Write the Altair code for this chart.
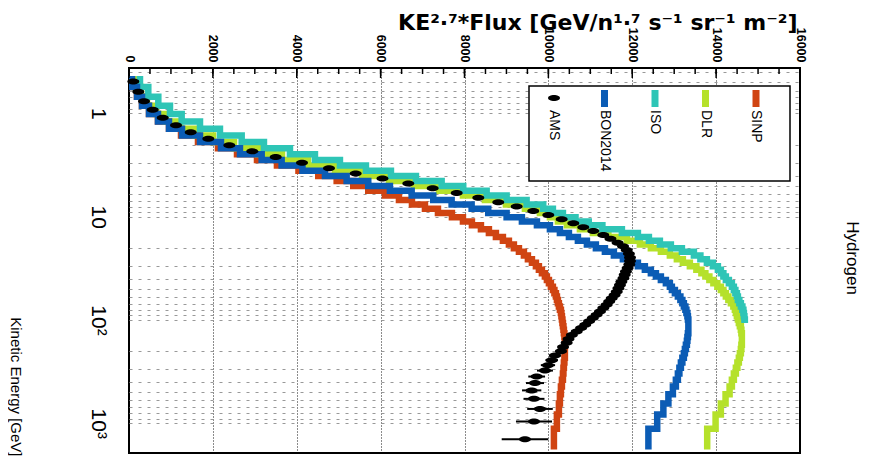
import altair as alt
import pandas as pd
import numpy as np

# ---------------- data ----------------
# kinetic energy bin edges [GeV/n]
ke_edges = [0.433, 0.554, 0.689, 0.840, 1.012, 1.199, 1.408, 1.639, 1.892, 2.176,
            2.483, 2.821, 3.190, 3.590, 4.031, 4.513, 5.036, 5.599, 6.214, 6.878,
            7.594, 8.369, 9.205, 10.10, 11.10, 12.10, 13.19, 14.39, 15.69, 17.09,
            18.58, 20.18, 21.88, 23.78, 25.78, 27.88, 30.18, 32.57, 35.17, 37.97,
            40.97, 44.17, 47.57, 51.27, 55.17, 59.37, 63.87, 68.77, 73.97, 79.57,
            85.57, 92.07, 99.07, 107.1, 115.1, 124.1, 134.1, 146.1, 159.1, 174.1,
            191.1, 210.1, 232.1, 258.1, 290.1, 329.1, 378.1, 440.1, 524.1, 642.1,
            821.1, 1129, 1799]

ams_flux = [103, 222, 358, 565, 804, 1121, 1471, 1891, 2392, 2940,
            3498, 4125, 4769, 5405, 6044, 6660, 7241, 7814, 8329, 8805,
            9244, 9640, 9998, 10317, 10594, 10832, 11071, 11309, 11480, 11650,
            11780, 11867, 11920, 11946, 11946, 11930, 11890, 11850, 11820, 11790,
            11740, 11707, 11670, 11630, 11580, 11510, 11450, 11390, 11310, 11230,
            11150, 11060, 10970, 10880, 10780, 10675, 10560, 10480, 10436, 10350,
            10300, 10157, 10080, 9990, 9919, 9721, 9681, 9602, 9657, 9800,
            9657, 9442]
ams_err = [40] * 55 + [80, 90, 100, 110, 120, 130, 140, 150, 170, 190,
                       200, 215, 230, 250, 305, 430, 555]

bon2014 = [72, 191, 310, 477, 691, 954, 1264, 1693, 2193, 2646,
           3164, 3640, 4136, 4673, 5190, 5705, 6222, 6740, 7255, 7693,
           8170, 8566, 9004, 9369, 9727, 10037, 10275, 10490, 10704, 10919,
           11133, 11348, 11562, 11777, 11968, 12135, 12301, 12444, 12564, 12683,
           12802, 12897, 12945, 13017, 13088, 13148, 13195, 13231, 13267, 13291,
           13315, 13327, 13338, 13338, 13338, 13338, 13327, 13315, 13303, 13279,
           13255, 13231, 13195, 13160, 13124, 13088, 13040, 12969, 12862, 12742,
           12595, 12385]

iso = [262, 460, 699, 977, 1256, 1693, 2169, 2687, 3218, 3838,
       4434, 5030, 5650, 6246, 6842, 7455, 7970, 8528, 9004, 9481,
       9877, 10108, 10347, 10647, 10962, 11288, 11753, 12135, 12397, 12659,
       12921, 13184, 13470, 13625, 13780, 13923, 14042, 14113, 14173, 14232,
       14304, 14376, 14423, 14459, 14495, 14519, 14554, 14590, 14626, 14650,
       14662, 14674, 14685]

dlr = [143, 286, 429, 644, 882, 1216, 1573, 2003, 2503, 3075,
       3648, 4267, 4911, 5555, 6198, 6794, 7390, 7963, 8487, 8988,
       9441, 9798, 10037, 10227, 10442, 10752, 11062, 11431, 11872, 12182,
       12444, 12683, 12897, 13064, 13207, 13374, 13529, 13649, 13744, 13839,
       13935, 14030, 14113, 14173, 14232, 14292, 14352, 14411, 14447, 14471,
       14495, 14519, 14542, 14566, 14590, 14602, 14614, 14614, 14614, 14602,
       14590, 14566, 14542, 14507, 14471, 14423, 14376, 14321, 14225, 14113,
       13987, 13787]

sinp = [72, 191, 310, 477, 691, 954, 1240, 1645, 2122, 2575,
        3052, 3528, 4041, 4513, 4952, 5347, 5705, 6103, 6437, 6747,
        7057, 7367, 7700, 7963, 8177, 8392, 8582, 8749, 8916, 9059,
        9178, 9298, 9417, 9512, 9608, 9703, 9774, 9846, 9917, 9965,
        10013, 10060, 10108, 10144, 10180, 10204, 10227, 10251, 10275, 10299,
        10311, 10323, 10335, 10347, 10359, 10370, 10382, 10394, 10394, 10394,
        10394, 10394, 10382, 10370, 10359, 10347, 10323, 10299, 10275, 10251,
        10203, 10132]

legend_names = ["AMS", "BON2014", "ISO", "DLR", "SINP"]
legend_colors = ["#000000", "#0b5cb5", "#2ec5b6", "#b5e12b", "#d04412"]

x_ticks = list(range(0, 16001, 2000))
x_minor = list(range(0, 16001, 500))
TITLE_X = "KE\u00b2\u00b7\u2077*Flux [GeV/n\u00b9\u00b7\u2077 s\u207b\u00b9 sr\u207b\u00b9 m\u207b\u00b2]"
TITLE_Y = "Kinetic Energy [GeV]"

# ---------------- tables ----------------
def hist_table(vals):
    rows = []
    for i, v in enumerate(vals):
        rows.append({"E": ke_edges[i], "flux": v, "k": 2 * i})
        rows.append({"E": ke_edges[i + 1], "flux": v, "k": 2 * i + 1})
    return pd.DataFrame(rows)

centers = [float(np.sqrt(ke_edges[i] * ke_edges[i + 1])) for i in range(len(ams_flux))]
ams_df = pd.DataFrame({"E": centers, "flux": ams_flux,
                       "lo": [f - e for f, e in zip(ams_flux, ams_err)],
                       "hi": [f + e for f, e in zip(ams_flux, ams_err)]})

ygrid = [m * 10 ** e for e in range(-1, 4) for m in range(1, 10)
         if 0.363 <= m * 10 ** e <= 1940]

W, H = 671, 385
FONT = "Liberation Sans"

x_scale = alt.Scale(domain=[0, 16000], nice=False, zero=False)
x_axis = alt.Axis(orient="top", values=x_ticks, format="d", labelAngle=90,
                  labelAlign="right", labelBaseline="middle",
                  labelPadding=6, ticks=False, tickSize=0, domain=False,
                  grid=True, gridColor="#000000", gridDash=[1, 2],
                  gridWidth=1, gridOpacity=0.9,
                  labelFont=FONT, labelFontSize=12.5, labelFontWeight="bold",
                  labelColor="#000000", labelOverlap=False,
                  title=TITLE_X, titleFont="DejaVu Sans",
                  titleFontSize=22, titleFontWeight="bold",
                  titleColor="#000000",
                  titleX=668, titleY=-39, titleAlign="right",
                  titleBaseline="alphabetic")

def xf(field):
    return alt.X(field, scale=x_scale, axis=x_axis)

y_enc = alt.Y("E:Q",
              scale=alt.Scale(type="log", domain=[0.363, 1940], nice=False,
                              reverse=True),
              axis=alt.Axis(orient="left", values=ygrid,
                            labelExpr="datum.value == 1 ? '1' : datum.value == 10 ? '10' : datum.value == 100 ? '10\u00b2' : datum.value == 1000 ? '10\u00b3' : ''",
                            labelAngle=90, labelAlign="center", labelBaseline="top",
                            labelPadding=21, ticks=False, tickSize=0, domain=False,
                            labelFont=FONT, labelFontSize=21, labelColor="#000000",
                            grid=True, gridColor="#999999", gridDash=[3, 6],
                            gridWidth=1,
                            title=TITLE_Y, titleFont=FONT,
                            titleFontSize=15, titleFontWeight="normal",
                            titleColor="#000000", titleAngle=90,
                            titleX=-114, titleY=388, titleAlign="right",
                            titleBaseline="middle"))

layers = []

def step_layer(vals, color):
    return alt.Chart(hist_table(vals)).mark_line(
        color=color, strokeWidth=6.5, strokeJoin="miter", strokeCap="butt",
        clip=True).encode(x=xf("flux:Q"), y=y_enc, order=alt.Order("k:Q"))

layers.append(step_layer(sinp, legend_colors[4]))
layers.append(step_layer(dlr, legend_colors[3]))
layers.append(step_layer(iso, legend_colors[2]))
layers.append(step_layer(bon2014, legend_colors[1]))

ellipse = "M -1 0 A 1 0.5 0 1 0 1 0 A 1 0.5 0 1 0 -1 0 Z"
layers.append(alt.Chart(ams_df).mark_rule(color="#000000", strokeWidth=2).encode(
    x=xf("lo:Q"), x2="hi:Q", y=y_enc))
layers.append(alt.Chart(ams_df).mark_point(shape=ellipse, size=144, filled=True,
                                           color="#000000", opacity=1).encode(
    x=xf("flux:Q"), y=y_enc))

# top-axis tick marks pointing into the frame
tick_df = pd.DataFrame({"flux": x_minor})
major_df = pd.DataFrame({"flux": x_ticks})
layers.append(alt.Chart(tick_df).mark_rule(color="#000000", strokeWidth=1.5).encode(
    x=xf("flux:Q"), y=alt.value(0), y2=alt.value(6)))
layers.append(alt.Chart(major_df).mark_rule(color="#000000", strokeWidth=1.5).encode(
    x=xf("flux:Q"), y=alt.value(0), y2=alt.value(10)))

# legend
one = pd.DataFrame({"a": [0]})
layers.append(alt.Chart(one).mark_rect(fill="#ffffff", stroke="#000000",
                                       strokeWidth=1.5).encode(
    x=alt.value(400), x2=alt.value(661), y=alt.value(18), y2=alt.value(113)))
for i, (name, col) in enumerate(zip(legend_names, legend_colors)):
    px = 425 + i * 50.5
    if name == "AMS":
        layers.append(alt.Chart(one).mark_point(shape=ellipse, size=144, filled=True,
                                                color=col, opacity=1).encode(
            x=alt.value(px), y=alt.value(30)))
    else:
        layers.append(alt.Chart(one).mark_rule(color=col, strokeWidth=7).encode(
            x=alt.value(px), y=alt.value(22), y2=alt.value(39)))
    layers.append(alt.Chart(one).mark_text(angle=90, align="left", baseline="middle",
                                           font=FONT, fontSize=14,
                                           color="#000000").encode(
        x=alt.value(px), y=alt.value(42), text=alt.value(name)))

layers.append(alt.Chart(one).mark_text(angle=90, align="center", baseline="middle",
                                       font=FONT, fontSize=17,
                                       color="#000000").encode(
    x=alt.value(723), y=alt.value(190), text=alt.value("Hydrogen")))

chart = alt.layer(*layers).properties(
    width=W, height=H,
    autosize=alt.AutoSizeParams(type="none"),
    padding={"left": 121, "top": 60, "right": 80, "bottom": 3},
    background="#ffffff",
).configure_view(stroke="#000000", strokeWidth=2)

chart.save("out.html", embed_options={"renderer": "svg", "actions": False})
